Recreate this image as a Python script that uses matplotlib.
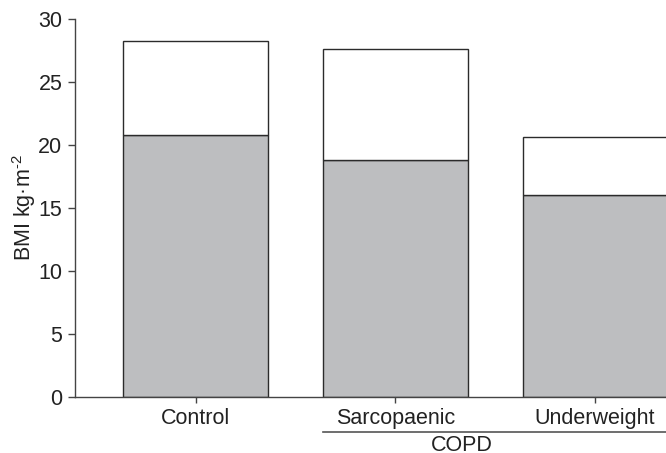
import matplotlib
matplotlib.use('Agg')
import matplotlib.pyplot as plt
import matplotlib.transforms as mtransforms

plt.rcParams['font.family'] = ['Liberation Sans', 'DejaVu Sans']
plt.rcParams['mathtext.fontset'] = 'custom'
plt.rcParams['mathtext.rm'] = 'Liberation Sans'
plt.rcParams['mathtext.it'] = 'Liberation Sans'

groups = ['Control', 'Sarcopaenic', 'Underweight']
lower = [20.8, 18.8, 16.0]      # grey part
total = [28.25, 27.6, 20.6]     # top of white part
upper = [t - l for t, l in zip(total, lower)]
copd_groups = ['Sarcopaenic', 'Underweight']

fs = 15.5
fig = plt.figure(figsize=(6.66, 4.53), dpi=100)
ax = fig.add_axes([0.1126, 0.1236, 0.8874, 0.8344])

x = list(range(len(groups)))
w = 0.725
ec = '#2b2b2b'
ax.bar(x, lower, width=w, color='#bdbec0', edgecolor=ec, linewidth=1.0)
ax.bar(x, upper, bottom=lower, width=w, color='white', edgecolor=ec, linewidth=1.0)

ax.set_xlim(-0.605, 2.355)
ax.set_ylim(0, 30)
ax.set_yticks(range(0, 31, 5))
ax.set_xticks(x)
ax.set_xticklabels(groups)
ax.tick_params(axis='both', labelsize=fs, color='#444444', direction='out',
               labelcolor='#222222')
ax.tick_params(axis='y', length=5, width=1, pad=4)
ax.tick_params(axis='x', length=4, width=1, pad=4)
ax.set_ylabel(r'BMI kg·m$^{\text{-}2}$', fontsize=fs, color='#222222')
ax.yaxis.set_label_coords(-0.062, 0.5)

for s in ['top', 'right']:
    ax.spines[s].set_visible(False)
for s in ['left', 'bottom']:
    ax.spines[s].set_color('#444444')
    ax.spines[s].set_linewidth(1.0)

# COPD bracket under the two COPD groups
i0 = groups.index(copd_groups[0])
trans = mtransforms.blended_transform_factory(ax.transData, ax.transAxes)
ax.plot([i0 - w / 2, 2.4], [-0.093, -0.093], transform=trans, color='#555555',
        linewidth=1.2, clip_on=False)
ax.text(1.33, -0.1, 'COPD', transform=trans, ha='center', va='top',
        fontsize=fs, color='#222222')

fig.savefig('out.png', dpi=100)
